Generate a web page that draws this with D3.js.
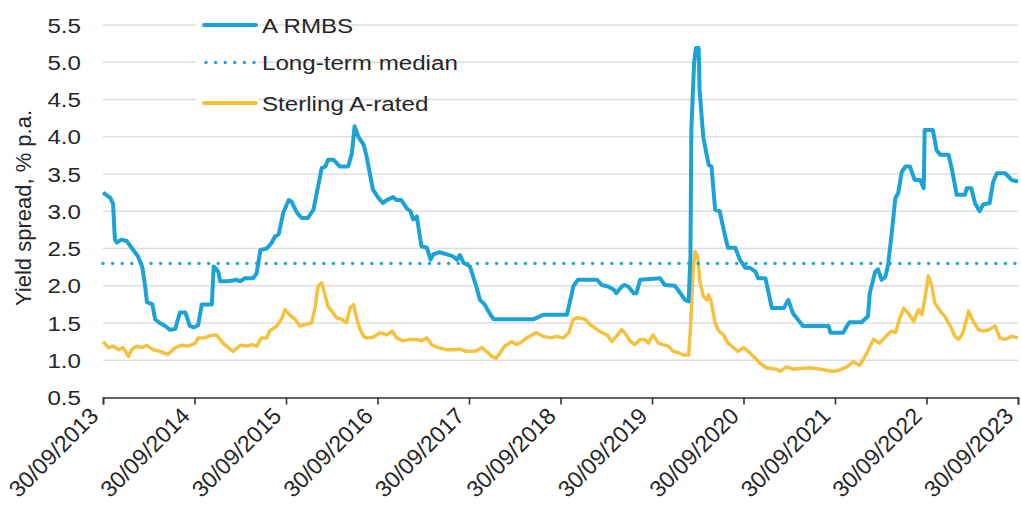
<!DOCTYPE html>
<html>
<head>
<meta charset="utf-8">
<script src="https://cdn.jsdelivr.net/npm/d3@7"></script>
<style>
  html, body { margin: 0; padding: 0; background: #fff; }
  svg { display: block; font-family: "Liberation Sans", Arial, sans-serif; }
</style>
</head>
<body>
<svg id="chart" width="1021" height="516"></svg>
<script>
// Time is stored as decimal years (2013.75 = end of September 2013)
const rmbsYears = [
  2013.75, 2013.83, 2013.86, 2013.88, 2013.90, 2013.95, 2014.01, 2014.08, 2014.13, 2014.18,
  2014.21, 2014.23, 2014.29, 2014.32, 2014.37, 2014.43, 2014.48, 2014.54, 2014.59, 2014.65,
  2014.70, 2014.74, 2014.79, 2014.83, 2014.94, 2014.96, 2015.01, 2015.03, 2015.12, 2015.21,
  2015.25, 2015.30, 2015.39, 2015.43, 2015.47, 2015.54, 2015.59, 2015.63, 2015.67, 2015.72,
  2015.78, 2015.81, 2015.87, 2015.92, 2015.99, 2016.05, 2016.10, 2016.14, 2016.18, 2016.21,
  2016.27, 2016.34, 2016.43, 2016.47, 2016.50, 2016.54, 2016.60, 2016.63, 2016.70, 2016.76,
  2016.81, 2016.85, 2016.92, 2016.96, 2017.01, 2017.07, 2017.11, 2017.14, 2017.18, 2017.23,
  2017.29, 2017.33, 2017.36, 2017.43, 2017.51, 2017.58, 2017.62, 2017.65, 2017.69, 2017.76,
  2017.83, 2017.87, 2017.92, 2017.99, 2018.02, 2018.45, 2018.51, 2018.56, 2018.82, 2018.85,
  2018.89, 2018.94, 2019.15, 2019.20, 2019.27, 2019.33, 2019.36, 2019.42, 2019.45, 2019.49,
  2019.55, 2019.58, 2019.62, 2019.84, 2019.89, 2020.00, 2020.06, 2020.11, 2020.15, 2020.17,
  2020.18, 2020.21, 2020.23, 2020.26, 2020.27, 2020.31, 2020.35, 2020.37, 2020.40, 2020.44,
  2020.49, 2020.55, 2020.58, 2020.66, 2020.71, 2020.77, 2020.82, 2020.88, 2020.91, 2020.99,
  2021.06, 2021.19, 2021.24, 2021.29, 2021.40, 2021.68, 2021.70, 2021.84, 2021.88, 2021.91,
  2022.04, 2022.11, 2022.13, 2022.19, 2022.22, 2022.26, 2022.30, 2022.33, 2022.37, 2022.41,
  2022.44, 2022.48, 2022.52, 2022.57, 2022.62, 2022.68, 2022.72, 2022.73, 2022.82, 2022.86,
  2022.90, 2022.99, 2023.03, 2023.08, 2023.17, 2023.19, 2023.24, 2023.28, 2023.33, 2023.37,
  2023.44, 2023.48, 2023.52, 2023.61, 2023.68, 2023.75
];
const rmbsSpread = [
  3.25, 3.18, 3.10, 2.62, 2.58, 2.62, 2.60, 2.48, 2.40, 2.25,
  2.00, 1.78, 1.75, 1.55, 1.50, 1.46, 1.41, 1.42, 1.64, 1.64,
  1.46, 1.44, 1.47, 1.75, 1.75, 2.26, 2.19, 2.06, 2.06, 2.08,
  2.06, 2.10, 2.10, 2.17, 2.48, 2.50, 2.57, 2.66, 2.69, 2.98,
  3.15, 3.13, 2.98, 2.91, 2.91, 3.02, 3.33, 3.58, 3.60, 3.69,
  3.69, 3.60, 3.60, 3.78, 4.14, 4.00, 3.89, 3.74, 3.29, 3.18,
  3.11, 3.15, 3.19, 3.15, 3.15, 3.04, 3.00, 2.89, 2.93, 2.53,
  2.51, 2.35, 2.42, 2.45, 2.42, 2.39, 2.35, 2.41, 2.31, 2.26,
  1.99, 1.81, 1.75, 1.60, 1.55, 1.55, 1.58, 1.61, 1.61, 1.77,
  1.99, 2.08, 2.08, 2.01, 1.99, 1.95, 1.90, 1.99, 2.01, 1.99,
  1.90, 1.90, 2.08, 2.10, 2.01, 2.00, 1.90, 1.81, 1.79, 2.39,
  4.09, 4.99, 5.19, 5.19, 4.63, 4.00, 3.74, 3.62, 3.60, 3.02,
  3.00, 2.66, 2.51, 2.51, 2.35, 2.24, 2.24, 2.19, 2.10, 2.10,
  1.70, 1.70, 1.81, 1.63, 1.46, 1.46, 1.37, 1.37, 1.46, 1.51,
  1.51, 1.59, 1.90, 2.19, 2.22, 2.08, 2.12, 2.28, 2.71, 3.18,
  3.24, 3.53, 3.60, 3.60, 3.42, 3.42, 3.31, 4.09, 4.09, 3.82,
  3.76, 3.76, 3.55, 3.22, 3.22, 3.31, 3.31, 3.11, 3.00, 3.09,
  3.11, 3.40, 3.51, 3.51, 3.42, 3.40
];

const sterlingYears = [
  2013.75, 2013.81, 2013.86, 2013.92, 2013.97, 2014.03, 2014.06, 2014.12, 2014.17, 2014.23,
  2014.30, 2014.37, 2014.46, 2014.54, 2014.61, 2014.68, 2014.76, 2014.79, 2014.86, 2014.92,
  2014.99, 2015.06, 2015.12, 2015.17, 2015.19, 2015.25, 2015.32, 2015.38, 2015.43, 2015.48,
  2015.54, 2015.57, 2015.65, 2015.70, 2015.74, 2015.79, 2015.85, 2015.90, 2015.96, 2016.03,
  2016.07, 2016.10, 2016.14, 2016.18, 2016.21, 2016.27, 2016.30, 2016.36, 2016.41, 2016.45,
  2016.49, 2016.52, 2016.56, 2016.60, 2016.63, 2016.70, 2016.78, 2016.85, 2016.91, 2016.96,
  2017.03, 2017.11, 2017.18, 2017.23, 2017.29, 2017.34, 2017.41, 2017.51, 2017.58, 2017.65,
  2017.72, 2017.82, 2017.89, 2017.94, 2018.00, 2018.05, 2018.09, 2018.14, 2018.22, 2018.27,
  2018.33, 2018.38, 2018.44, 2018.49, 2018.56, 2018.64, 2018.71, 2018.78, 2018.84, 2018.89,
  2018.94, 2019.02, 2019.07, 2019.13, 2019.20, 2019.26, 2019.31, 2019.36, 2019.42, 2019.45,
  2019.51, 2019.56, 2019.62, 2019.67, 2019.71, 2019.76, 2019.82, 2019.87, 2019.93, 2019.98,
  2020.04, 2020.09, 2020.15, 2020.17, 2020.20, 2020.22, 2020.25, 2020.27, 2020.31, 2020.35,
  2020.37, 2020.40, 2020.44, 2020.48, 2020.53, 2020.58, 2020.64, 2020.69, 2020.75, 2020.80,
  2020.86, 2020.93, 2021.00, 2021.11, 2021.15, 2021.22, 2021.29, 2021.37, 2021.48, 2021.59,
  2021.73, 2021.80, 2021.88, 2021.95, 2022.02, 2022.10, 2022.17, 2022.24, 2022.32, 2022.37,
  2022.41, 2022.46, 2022.50, 2022.55, 2022.61, 2022.66, 2022.70, 2022.73, 2022.77, 2022.81,
  2022.84, 2022.90, 2022.95, 2023.01, 2023.06, 2023.10, 2023.15, 2023.21, 2023.26, 2023.32,
  2023.37, 2023.43, 2023.50, 2023.55, 2023.61, 2023.68, 2023.75
];
const sterlingSpread = [
  1.25, 1.17, 1.19, 1.14, 1.17, 1.05, 1.14, 1.19, 1.17, 1.20,
  1.14, 1.12, 1.08, 1.17, 1.20, 1.19, 1.23, 1.30, 1.30, 1.33,
  1.34, 1.23, 1.17, 1.12, 1.14, 1.20, 1.19, 1.21, 1.19, 1.30,
  1.30, 1.39, 1.46, 1.55, 1.68, 1.61, 1.55, 1.46, 1.48, 1.50,
  1.72, 1.99, 2.04, 1.86, 1.72, 1.63, 1.57, 1.55, 1.50, 1.70,
  1.75, 1.57, 1.41, 1.32, 1.30, 1.31, 1.37, 1.34, 1.39, 1.30,
  1.26, 1.28, 1.28, 1.26, 1.30, 1.21, 1.17, 1.14, 1.14, 1.15,
  1.12, 1.12, 1.17, 1.12, 1.05, 1.03, 1.10, 1.19, 1.25, 1.21,
  1.25, 1.30, 1.34, 1.37, 1.32, 1.30, 1.32, 1.30, 1.37, 1.55,
  1.57, 1.55, 1.48, 1.43, 1.37, 1.34, 1.25, 1.32, 1.41, 1.37,
  1.26, 1.21, 1.28, 1.28, 1.23, 1.34, 1.23, 1.21, 1.19, 1.12,
  1.10, 1.07, 1.07, 1.41, 2.22, 2.46, 2.39, 2.08, 1.86, 1.81,
  1.88, 1.77, 1.50, 1.39, 1.34, 1.23, 1.17, 1.12, 1.17, 1.12,
  1.05, 0.96, 0.90, 0.88, 0.85, 0.91, 0.88, 0.89, 0.90, 0.88,
  0.85, 0.87, 0.91, 0.98, 0.93, 1.10, 1.28, 1.23, 1.34, 1.39,
  1.37, 1.57, 1.70, 1.63, 1.52, 1.68, 1.61, 1.81, 2.13, 1.99,
  1.77, 1.66, 1.59, 1.46, 1.32, 1.28, 1.37, 1.66, 1.52, 1.41,
  1.39, 1.41, 1.46, 1.30, 1.28, 1.32, 1.30
];

const medianSpread = 2.3;
const yTicks = [0.5, 1.0, 1.5, 2.0, 2.5, 3.0, 3.5, 4.0, 4.5, 5.0, 5.5];
const xTickYears = [2013.75, 2014.75, 2015.75, 2016.75, 2017.75, 2018.75, 2019.75, 2020.75, 2021.75, 2022.75, 2023.75];
const xTickLabels = ["30/09/2013", "30/09/2014", "30/09/2015", "30/09/2016", "30/09/2017", "30/09/2018",
                     "30/09/2019", "30/09/2020", "30/09/2021", "30/09/2022", "30/09/2023"];
const seriesNames = ["A RMBS", "Long-term median", "Sterling A-rated"];

const BLUE = "#1ba3d8";
const GOLD = "#f4c23e";
const TEXT = "#262626";
const STRETCH = "scale(1.15,1)";

const svg = d3.select("#chart");
const margin = { left: 103, right: 1018, top: 25, bottom: 397.5 };

const x = d3.scaleLinear().domain([2013.75, 2023.75]).range([margin.left, margin.right]);
const y = d3.scaleLinear().domain([0.5, 5.5]).range([margin.bottom, margin.top]);

// horizontal gridlines
svg.append("g")
  .selectAll("line")
  .data(yTicks.filter(v => v > 0.5))
  .join("line")
  .attr("x1", margin.left).attr("x2", margin.right)
  .attr("y1", d => y(d)).attr("y2", d => y(d))
  .attr("stroke", "#dedede").attr("stroke-width", 1.3);

// y tick labels
svg.append("g")
  .selectAll("g")
  .data(yTicks)
  .join("g")
  .attr("transform", d => `translate(81,${y(d)}) ${STRETCH}`)
  .append("text")
  .attr("text-anchor", "end")
  .attr("dy", "0.36em")
  .attr("font-size", 21)
  .attr("fill", TEXT)
  .text(d => d.toFixed(1));

// y axis title
svg.append("text")
  .attr("transform", `translate(31,208) rotate(-90)`)
  .attr("text-anchor", "middle")
  .attr("font-size", 22)
  .attr("fill", TEXT)
  .text("Yield spread, % p.a.");

// x axis with outward ticks
const xAxis = svg.append("g")
  .attr("transform", `translate(0,${margin.bottom})`)
  .call(d3.axisBottom(x).tickValues(xTickYears).tickSize(7).tickFormat(""));
xAxis.select(".domain").attr("stroke", "#333").attr("stroke-width", 1.6);
xAxis.selectAll(".tick line").attr("stroke", "#333").attr("stroke-width", 1.6);

// rotated date labels ending at each tick
svg.append("g")
  .selectAll("text")
  .data(xTickYears)
  .join("text")
  .attr("transform", d => `translate(${x(d) - 9},${margin.bottom + 14}) rotate(-45)`)
  .attr("text-anchor", "end")
  .attr("dy", "0.36em")
  .attr("font-size", 23)
  .attr("fill", TEXT)
  .text((d, i) => xTickLabels[i]);

// series lines
const line = d3.line().x(d => x(d[0])).y(d => y(d[1]));

svg.append("path")
  .datum(d3.zip(sterlingYears, sterlingSpread))
  .attr("d", line)
  .attr("fill", "none").attr("stroke", GOLD)
  .attr("stroke-width", 3.5).attr("stroke-linejoin", "round");

svg.append("line")
  .attr("x1", x(2013.75)).attr("x2", x(2023.75))
  .attr("y1", y(medianSpread)).attr("y2", y(medianSpread))
  .attr("stroke", BLUE).attr("stroke-width", 3.4)
  .attr("stroke-linecap", "round").attr("stroke-dasharray", "0 9.6");

svg.append("path")
  .datum(d3.zip(rmbsYears, rmbsSpread))
  .attr("d", line)
  .attr("fill", "none").attr("stroke", BLUE)
  .attr("stroke-width", 4).attr("stroke-linejoin", "round");

// legend
const legendRows = [
  { name: seriesNames[0], color: BLUE, dash: null, y: 25 },
  { name: seriesNames[1], color: BLUE, dash: "0 9.6", y: 62.5 },
  { name: seriesNames[2], color: GOLD, dash: null, y: 103 }
];
const legend = svg.append("g");
legendRows.forEach(r => {
  legend.append("rect")
    .attr("x", 196).attr("y", r.y - 14).attr("width", 62).attr("height", 28)
    .attr("fill", "#fff");
  legend.append("line")
    .attr("x1", r.dash ? 206 : 204).attr("x2", 256)
    .attr("y1", r.y).attr("y2", r.y)
    .attr("stroke", r.color).attr("stroke-width", r.dash ? 3.4 : 4)
    .attr("stroke-linecap", "round")
    .attr("stroke-dasharray", r.dash);
  legend.append("g")
    .attr("transform", `translate(262,${r.y}) ${STRETCH}`)
    .append("text")
    .attr("dy", "0.36em")
    .attr("font-size", 21)
    .attr("fill", TEXT)
    .text(r.name);
});
</script>
</body>
</html>
